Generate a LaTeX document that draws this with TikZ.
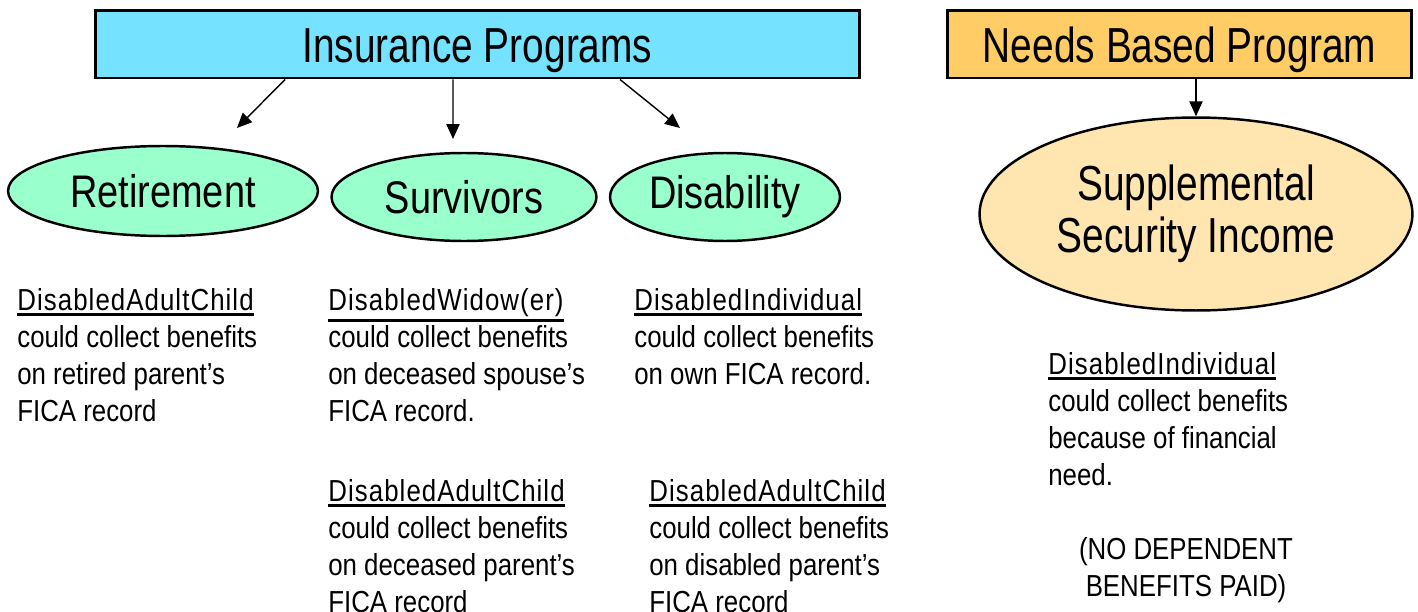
\documentclass[tikz,border=0pt]{standalone}
\usepackage{fontspec}
\newfontfamily\narrow[FakeStretch=0.85]{Liberation Sans}
\newfontfamily\headfont[FakeStretch=0.79]{Liberation Sans}
\newfontfamily\ovalfont[FakeStretch=0.83]{Liberation Sans}
\usetikzlibrary{shapes.geometric,arrows.meta}
\definecolor{insblue}{HTML}{75E3FF}
\definecolor{progreen}{HTML}{99FFCC}
\definecolor{needorange}{HTML}{FFCC66}
\definecolor{ssiyellow}{HTML}{FFE6B0}
\newcommand\uword[1]{\leavevmode\vtop{\hbox{\addfontfeature{LetterSpace=3.5}#1}\kern1.6pt\hrule height 1.2pt}}
\begin{document}
\begin{tikzpicture}[x=0.02cm, y=-0.02cm, >={Triangle[length=8.5pt,width=7.5pt]},
  head/.style = {draw, line width=1.7pt, rectangle, inner sep=0, text height=21.5pt, text depth=0pt, font=\headfont\fontsize{28}{30}\selectfont},
  prog/.style = {draw, line width=1.4pt, ellipse, inner sep=0, fill=progreen, font=\ovalfont\fontsize{26}{30}\selectfont},
  txt/.style = {anchor=north west, align=left, inner sep=0, font=\narrow\fontsize{17.3}{21}\selectfont}]
\useasboundingbox (0,0) rectangle (1418,612);
\node[head, fill=insblue, minimum width=15.3cm, minimum height=1.36cm] (1) at (477.5,44) {Insurance Programs};
\node[head, fill=needorange, minimum width=9.3cm, minimum height=1.36cm] (5) at (1179.5,44) {Needs Based Program};
\node[prog, minimum width=6.2cm, minimum height=1.8cm] (2) at (163,191) {Retirement};
\node[prog, minimum width=5.3cm, minimum height=1.76cm] (3) at (464,197) {Survivors};
\node[prog, minimum width=4.6cm, minimum height=1.76cm] (4) at (725,197) {Disability};
\node[prog, fill=ssiyellow, align=center, minimum width=8.66cm, minimum height=3.86cm,
  font=\headfont\fontsize{28}{29.6}\selectfont] (6) at (1196,214) {Supplemental\\Security Income};
\coordinate (t2) at (237,128);
\coordinate (t3) at (453,139);
\coordinate (t4) at (680,128);
\draw[->, thick] ([xshift=-3.85cm]1.south) -- (t2);
\draw[->, thick] ([xshift=-0.49cm]1.south) -- (t3);
\draw[->, thick] ([xshift=2.85cm]1.south) -- (t4);
\draw[->, thick] (5.south -| 6.north) -- (6.north);
\node[txt] (7) at (17,288) {\uword{DisabledAdultChild}\\could collect benefits\\on retired parent’s\\FICA record};
\node[txt] (8) at (328,288) {\uword{DisabledWidow(er)}\\could collect benefits\\on deceased spouse’s\\FICA record.};
\node[txt] (9) at (634,288) {\uword{DisabledIndividual}\\could collect benefits\\on own FICA record.};
\node[txt] (10) at (328,479) {\uword{DisabledAdultChild}\\could collect benefits\\on deceased parent’s\\FICA record};
\node[txt] (11) at (649,479) {\uword{DisabledAdultChild}\\could collect benefits\\on disabled parent’s\\FICA record};
\node[txt] (12) at (1048,352) {\uword{DisabledIndividual}\\could collect benefits\\because of financial\\need.};
\node[txt, anchor=north, align=center] (13) at (1186,537) {(NO DEPENDENT\\BENEFITS PAID)};
\end{tikzpicture}
\end{document}
